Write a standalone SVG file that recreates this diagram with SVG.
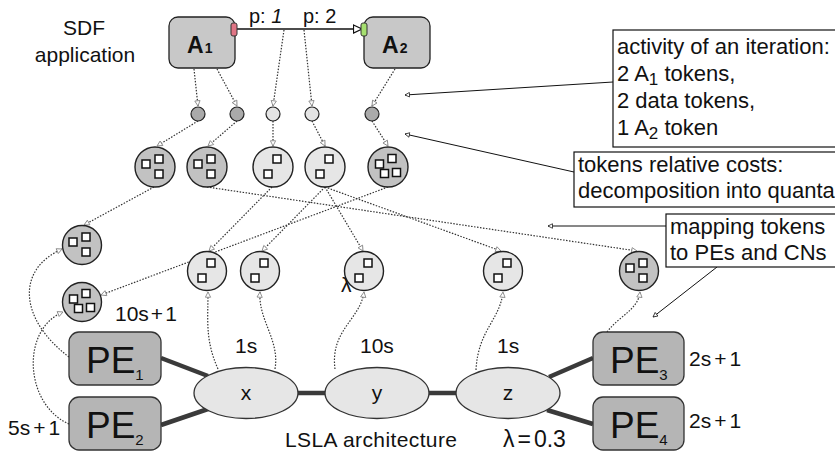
<svg xmlns="http://www.w3.org/2000/svg" xmlns:xlink="http://www.w3.org/1999/xlink" width="835" height="453" viewBox="0 0 835 453">
<style>
text{font-family:"Liberation Sans",Arial,sans-serif;fill:#111}
.lbl{font-size:21px}
.box{fill:#fff;stroke:#111;stroke-width:1.2}
.bt{font-size:22px}
.act{fill:#c8c8c8;stroke:#222;stroke-width:1.3}
.pe{fill:#b5b5b5;stroke:#333;stroke-width:1.3}
.cn{fill:#e6e6e6;stroke:#333;stroke-width:1.3}
.dk{fill:#c2c2c2;stroke:#222;stroke-width:1.4}
.lt{fill:#e6e6e6;stroke:#222;stroke-width:1.4}
.sdk{fill:#aaaaaa;stroke:#222;stroke-width:1.2}
.slt{fill:#e4e4e4;stroke:#222;stroke-width:1.2}
.sq{fill:#fff;stroke:#111;stroke-width:1.5}
.dot{fill:none;stroke:#333;stroke-width:1.2;stroke-dasharray:1.5 1.5;marker-end:url(#ah)}
.thick{stroke:#3a3a3a;stroke-width:4.5}
.ann{fill:none;stroke:#111;stroke-width:1;marker-end:url(#ahs)}
.pet{font-size:37px}
</style>
<defs>
<marker id="ah" viewBox="0 0 8 8" refX="7" refY="4" markerWidth="7" markerHeight="7" markerUnits="userSpaceOnUse" orient="auto"><path d="M1,1 L7,4 L1,7 z" fill="#fff" stroke="#888" stroke-width="1"/></marker>
<marker id="ahs" viewBox="0 0 8 8" refX="7" refY="4" markerWidth="6" markerHeight="6" markerUnits="userSpaceOnUse" orient="auto"><path d="M1,1 L7,4 L1,7 z" fill="#fff" stroke="#111" stroke-width="1"/></marker>
<marker id="big" viewBox="0 0 10 10" refX="9.5" refY="5" markerWidth="10" markerHeight="10" markerUnits="userSpaceOnUse" orient="auto"><path d="M1,1 L9.5,5 L1,9 z" fill="#fff" stroke="#111" stroke-width="1.2"/></marker>
<g id="p2"><rect class="sq" x="0" y="-12" width="8" height="8"/><rect class="sq" x="-9" y="3" width="8" height="8"/></g>
<g id="p3"><rect class="sq" x="-13" y="-7" width="8" height="8"/><rect class="sq" x="0" y="-12" width="8" height="8"/><rect class="sq" x="0" y="3" width="8" height="8"/></g>
<g id="p4"><rect class="sq" x="-12.5" y="-7" width="8" height="8"/><rect class="sq" x="0" y="-12.5" width="8" height="8"/><rect class="sq" x="-7.5" y="2.5" width="8" height="8"/><rect class="sq" x="4.5" y="1.5" width="8" height="8"/></g>
</defs>

<rect width="835" height="453" fill="#fff"/>

<g id="sdf-label">
<text class="lbl" x="84" y="35" text-anchor="middle">SDF</text>
<text class="lbl" x="85" y="62" text-anchor="middle">application</text>
</g>

<g id="connectors">
<line x1="237" y1="29" x2="362" y2="29" stroke="#111" stroke-width="1.5" marker-end="url(#big)"/>
<path class="dot" d="M194,69 L198,106"/>
<path class="dot" d="M217,69 L237,106"/>
<path class="dot" d="M284,30 L273,106"/>
<path class="dot" d="M304,30 L312,106"/>
<path class="dot" d="M395,69 L372,106"/>
<path class="dot" d="M198,121 L157,146"/>
<path class="dot" d="M237,121 L208,146"/>
<path class="dot" d="M273,121 L273,146"/>
<path class="dot" d="M312,121 L325,146"/>
<path class="dot" d="M372,121 L388,146"/>
<path class="dot" d="M154,187 L84,225"/>
<path class="dot" d="M207,187 L637,251"/>
<path class="dot" d="M272,187 L209,251"/>
<path class="dot" d="M325,187 L262,251"/>
<path class="dot" d="M325,187 L363,251"/>
<path class="dot" d="M325,187 L501,251"/>
<path class="dot" d="M388,187 L101,295"/>
<path class="dot" d="M69,357 C20,320 15,270 62,249"/>
<path class="dot" d="M69,424 C25,405 20,330 63,312"/>
<path class="dot" d="M218,369 C205,340 208,320 208,292"/>
<path class="dot" d="M275,369 C280,340 258,320 260,292"/>
<path class="dot" d="M335,369 C330,330 360,320 364,292"/>
<path class="dot" d="M476,370 C478,330 500,320 503,292"/>
<path class="dot" d="M607,332 C620,315 638,310 640,292"/>
<line class="thick" x1="161" y1="358" x2="208" y2="376"/>
<line class="thick" x1="161" y1="425" x2="208" y2="409"/>
<line class="thick" x1="297" y1="393" x2="326" y2="393"/>
<line class="thick" x1="428" y1="393" x2="457" y2="393"/>
<line class="thick" x1="549" y1="377" x2="593" y2="358"/>
<line class="thick" x1="547" y1="410" x2="593" y2="424"/>
<path class="ann" d="M613,82 L405,95"/>
<path class="ann" d="M574,172 L405,134"/>
<path class="ann" d="M666,226 L548,226"/>
<path class="ann" d="M717,267 L653,317"/>
</g>

<g id="A1">
<rect class="act" x="169" y="17" width="66" height="51" rx="9"/>
<rect x="231" y="23" width="6" height="13" rx="2" fill="#e07585" stroke="#333" stroke-width="1"/>
<text x="187" y="53" font-size="23" font-weight="bold">A<tspan font-size="14" dx="1">1</tspan></text>
</g>
<g id="A2">
<rect class="act" x="364" y="17" width="66" height="51" rx="9"/>
<rect x="361" y="23" width="6" height="13" rx="2" fill="#a6e070" stroke="#333" stroke-width="1"/>
<text x="382" y="53" font-size="23" font-weight="bold">A<tspan font-size="14" dx="1">2</tspan></text>
</g>
<g id="edge-labels">
<text x="249" y="23" font-size="20">p: <tspan font-style="italic">1</tspan></text>
<text x="303" y="23" font-size="20">p: 2</text>
</g>

<g id="tok-a1a"><circle class="sdk" cx="198" cy="114" r="7"/></g>
<g id="tok-a1b"><circle class="sdk" cx="237" cy="114" r="7"/></g>
<g id="tok-d1"><circle class="slt" cx="273" cy="114" r="7"/></g>
<g id="tok-d2"><circle class="slt" cx="312" cy="114" r="7"/></g>
<g id="tok-a2"><circle class="sdk" cx="372" cy="114" r="7"/></g>

<g id="q-a1a"><circle class="dk" cx="155" cy="167" r="20"/><use xlink:href="#p3" x="155" y="167"/></g>
<g id="q-a1b"><circle class="dk" cx="207" cy="167" r="20"/><use xlink:href="#p3" x="207" y="167"/></g>
<g id="q-d1"><circle class="lt" cx="273" cy="167" r="20"/><use xlink:href="#p2" x="273" y="167"/></g>
<g id="q-d2"><circle class="lt" cx="325" cy="167" r="20"/><use xlink:href="#p2" x="325" y="167"/></g>
<g id="q-a2"><circle class="dk" cx="388" cy="167" r="20"/><use xlink:href="#p4" x="388" y="167"/></g>

<g id="m-pe1"><circle class="dk" cx="82" cy="245" r="19.5"/><use xlink:href="#p3" x="82" y="245"/></g>
<g id="m-pe2"><circle class="dk" cx="82" cy="302" r="19.5"/><use xlink:href="#p4" x="82" y="302"/></g>
<g id="m-x1"><circle class="lt" cx="207" cy="271" r="19.5"/><use xlink:href="#p2" x="207" y="271"/></g>
<g id="m-x2"><circle class="lt" cx="260" cy="271" r="19.5"/><use xlink:href="#p2" x="260" y="271"/></g>
<g id="m-y"><circle class="lt" cx="364" cy="271" r="19.5"/><use xlink:href="#p2" x="364" y="271"/></g>
<g id="m-z"><circle class="lt" cx="503" cy="271" r="19.5"/><use xlink:href="#p2" x="503" y="271"/></g>
<g id="m-pe3"><circle class="dk" cx="639" cy="271" r="19.5"/><use xlink:href="#p3" x="639" y="271"/></g>
<text class="lbl" x="341" y="292">λ</text>

<g id="PE1">
<rect class="pe" x="69" y="332" width="92" height="53" rx="10"/>
<text class="pet" x="86" y="373">PE<tspan font-size="15" dy="7">1</tspan></text>
</g>
<g id="PE2">
<rect class="pe" x="69" y="397" width="92" height="53" rx="10"/>
<text class="pet" x="86" y="438">PE<tspan font-size="15" dy="7">2</tspan></text>
</g>
<g id="PE3">
<rect class="pe" x="593" y="332" width="91" height="53" rx="10"/>
<text class="pet" x="610" y="373">PE<tspan font-size="15" dy="7">3</tspan></text>
</g>
<g id="PE4">
<rect class="pe" x="593" y="397" width="91" height="53" rx="10"/>
<text class="pet" x="610" y="438">PE<tspan font-size="15" dy="7">4</tspan></text>
</g>
<g id="CN-x"><ellipse class="cn" cx="246" cy="393" rx="52" ry="25.5"/><text class="lbl" x="246" y="400" text-anchor="middle">x</text></g>
<g id="CN-y"><ellipse class="cn" cx="377" cy="393" rx="52" ry="25.5"/><text class="lbl" x="377" y="400" text-anchor="middle">y</text></g>
<g id="CN-z"><ellipse class="cn" cx="508" cy="393" rx="52" ry="25.5"/><text class="lbl" x="508" y="400" text-anchor="middle">z</text></g>

<g id="labels">
<text class="lbl" x="115" y="321" font-size="22">10s<tspan dx="2">+</tspan><tspan dx="2">1</tspan></text>
<text class="lbl" x="235" y="353">1s</text>
<text class="lbl" x="360" y="353">10s</text>
<text class="lbl" x="497" y="353">1s</text>
<text class="lbl" x="689" y="366">2s<tspan dx="3">+</tspan><tspan dx="3">1</tspan></text>
<text class="lbl" x="689" y="428">2s<tspan dx="3">+</tspan><tspan dx="3">1</tspan></text>
<text class="lbl" x="8" y="435">5s<tspan dx="3">+</tspan><tspan dx="3">1</tspan></text>
<text class="lbl" x="285" y="447" textLength="172" lengthAdjust="spacing">LSLA architecture</text>
<text class="lbl" x="503" y="447" style="font-size:23px">λ<tspan dx="3">=</tspan><tspan dx="3">0.3</tspan></text>
</g>

<g id="note-activity">
<rect class="box" x="613" y="30" width="230" height="117"/>
<text class="bt" x="617" y="54">activity of an iteration:</text>
<text class="bt" x="617" y="81">2 A<tspan font-size="17" dy="4">1</tspan><tspan dy="-4"> tokens,</tspan></text>
<text class="bt" x="617" y="108">2 data tokens,</text>
<text class="bt" x="617" y="135">1 A<tspan font-size="17" dy="4">2</tspan><tspan dy="-4"> token</tspan></text>
</g>
<g id="note-costs">
<rect class="box" x="574" y="152" width="270" height="55"/>
<text class="bt" x="578" y="172">tokens relative costs:</text>
<text class="bt" x="578" y="198">decomposition into quanta</text>
</g>
<g id="note-mapping">
<rect class="box" x="666" y="214" width="180" height="53"/>
<text class="bt" x="670" y="234">mapping tokens</text>
<text class="bt" x="670" y="260">to PEs and CNs</text>
</g>
</svg>
